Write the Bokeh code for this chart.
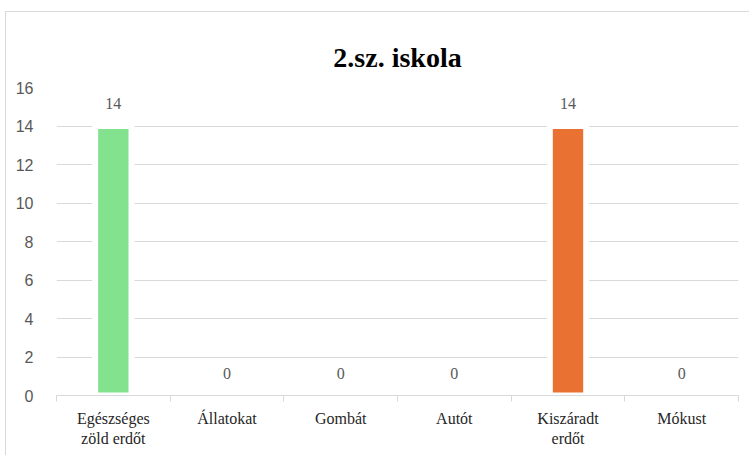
from bokeh.plotting import figure
from bokeh.models import ColumnDataSource, FixedTicker, Title, LabelSet
from bokeh.embed import file_html
from bokeh.resources import INLINE

title_text = "2.sz. iskola"
categories = ["Egészséges zöld erdőt", "Állatokat", "Gombát", "Autót", "Kiszáradt erdőt", "Mókust"]
tick_labels = ["Egészséges\nzöld erdőt", "Állatokat", "Gombát", "Autót", "Kiszáradt\nerdőt", "Mókust"]
values = [14, 0, 0, 0, 14, 0]
colors = ["#83E28E", "#4EA72E", "#A02B93", "#196B24", "#E97132", "#0F9ED5"]
y_ticks = [0, 2, 4, 6, 8, 10, 12, 14, 16]

xpos = [i + 0.5 for i in range(len(categories))]
src = ColumnDataSource(dict(x=xpos, top=values, color=colors,
                            label=[str(v) for v in values]))

p = figure(width=744, height=444, x_range=(0, len(categories)), y_range=(0, 16),
           output_backend="svg", toolbar_location=None,
           min_border_left=50, min_border_right=12, min_border_top=75, min_border_bottom=61)
p.styles = {"border-left": "1px solid #d9d9d9", "border-top": "1px solid #d9d9d9",
            "margin-left": "5px", "margin-top": "11px"}

t = Title(text=title_text, align="center", text_font="Liberation Serif",
          text_font_size="28px", text_font_style="bold", text_color="#000000", standoff=30)
p.add_layout(t, "above")
p.title.visible = False

p.vbar(x="x", top="top", width=0.32, source=src, fill_color="color",
       line_color="white", line_width=6)

labels = LabelSet(x="x", y="top", text="label", source=src, text_align="center",
                  text_baseline="bottom", y_offset=17, text_font="Liberation Sans",
                  text_font_size="16px", text_color="#595959")
p.add_layout(labels)

p.outline_line_color = None
p.xgrid.visible = False
p.ygrid.grid_line_color = "#d9d9d9"
p.ygrid.ticker = FixedTicker(ticks=y_ticks)

p.yaxis.ticker = FixedTicker(ticks=y_ticks)
p.yaxis.axis_line_color = None
p.yaxis.major_tick_line_color = None
p.yaxis.minor_tick_line_color = None
p.yaxis.major_label_text_font = "Liberation Sans"
p.yaxis.major_label_text_font_size = "16px"
p.yaxis.major_label_text_color = "#595959"
p.yaxis.major_label_standoff = 17

p.xaxis.ticker = FixedTicker(ticks=xpos, minor_ticks=list(range(len(categories) + 1)))
p.xaxis.major_label_overrides = {x: lab for x, lab in zip(xpos, tick_labels)}
p.xaxis.axis_line_color = "#d9d9d9"
p.xaxis.major_tick_line_color = None
p.xaxis.minor_tick_line_color = "#d9d9d9"
p.xaxis.minor_tick_out = 6
p.xaxis.minor_tick_in = 0
p.xaxis.major_label_text_font = "Liberation Serif"
p.xaxis.major_label_text_font_size = "16px"
p.xaxis.major_label_text_color = "#262626"
p.xaxis.major_label_standoff = 8

open("out.html", "w").write(file_html(p, INLINE))
